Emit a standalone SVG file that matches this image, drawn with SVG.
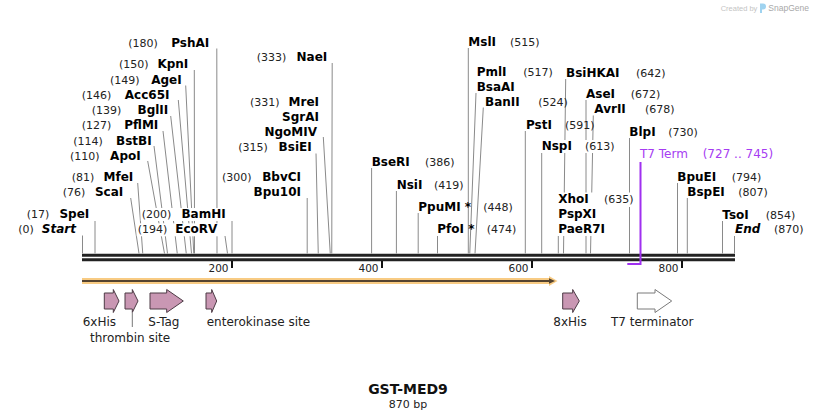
<svg xmlns="http://www.w3.org/2000/svg" width="818" height="420" viewBox="0 0 818 420">
<style>
.n{font:bold 12px "DejaVu Sans",Verdana,sans-serif;fill:#000}
.p{font:11px "DejaVu Sans",Verdana,sans-serif;fill:#222}
.i{font-style:italic}
.e{text-anchor:end}
.bg{fill:#fff}
.cut{stroke:#8a8a8a;stroke-width:1;fill:none}
.seq{stroke:#222;stroke-width:3}
.tick{stroke:#111;stroke-width:2}
.tl{font:10.5px "DejaVu Sans",Verdana,sans-serif;fill:#222;text-anchor:end}
.f{fill:#c997b3;stroke:#4d3b45;stroke-width:1}
.fw{fill:#fff;stroke:#7a7a7a;stroke-width:1}
.fl{font:12px "DejaVu Sans",Verdana,sans-serif;fill:#222}
.pu{fill:#a63cf2;font:12px "DejaVu Sans",Verdana,sans-serif}
</style>

<g id="watermark">
<text x="720.7" y="10.5" style="font:7.5px 'Liberation Sans',Arial,sans-serif;fill:#c4c4c4">Created by</text>
<path d="M760,3.5 h3 a3,3 0 0 1 0,6 h-1 v3.5 h-2 z" fill="#9fd3f0"/>
<text x="768.3" y="11" style="font:8.5px 'Liberation Sans',Arial,sans-serif;fill:#a8a8a8">SnapGene</text>
</g>

<g id="sequence">
<line class="seq" x1="82" y1="255.2" x2="735" y2="255.2"/>
<line class="seq" x1="82" y1="259.7" x2="735" y2="259.7"/>
<line class="tick" x1="232" y1="261" x2="232" y2="268"/>
<line class="tick" x1="382" y1="261" x2="382" y2="268"/>
<line class="tick" x1="532" y1="261" x2="532" y2="268"/>
<line class="tick" x1="682" y1="261" x2="682" y2="268"/>
<text class="tl" x="228.5" y="271.5">200</text>
<text class="tl" x="378.5" y="271.5">400</text>
<text class="tl" x="528.5" y="271.5">600</text>
<text class="tl" x="678.5" y="271.5">800</text>
</g>

<g id="connectors">
<path class="cut" d="M82.5,235.5V253.5"/>
<path class="cut" d="M95,221V253.5"/>
<path class="cut" d="M130.7,198L139,253.5"/>
<path class="cut" d="M137.7,183L142.75,253.5"/>
<path class="cut" d="M147.7,161L164.5,253.5"/>
<path class="cut" d="M154,146L167.5,253.5"/>
<path class="cut" d="M163,131L177.25,253.5"/>
<path class="cut" d="M170.7,116L186.25,253.5"/>
<path class="cut" d="M178.3,100L191.5,253.5"/>
<path class="cut" d="M185.7,85.5L193.75,253.5"/>
<path class="cut" d="M194.3,70L194.5,253.5"/>
<path class="cut" d="M216.8,48.5L217,253.5"/>
<path class="cut" d="M232,221V253.5"/>
<path class="cut" d="M225,236L227.5,253.5"/>
<path class="cut" d="M307.2,198V253.5"/>
<path class="cut" d="M316,153L318.25,253.5"/>
<path class="cut" d="M323.3,137L330.25,253.5"/>
<path class="cut" d="M332.2,63L331.75,253.5"/>
<path class="cut" d="M371.6,168V253.5"/>
<path class="cut" d="M396.4,191V253.5"/>
<path class="cut" d="M418.2,213V253.5"/>
<path class="cut" d="M437.5,236V253.5"/>
<path class="cut" d="M468.3,48V253.5"/>
<path class="cut" d="M476,93L469.75,253.5"/>
<path class="cut" d="M483.3,107.5L475,253.5"/>
<path class="cut" d="M525.3,131V253.5"/>
<path class="cut" d="M541.7,152V253.5"/>
<path class="cut" d="M565.7,79L563.5,253.5"/>
<path class="cut" d="M586,100V253.5"/>
<path class="cut" d="M593.3,115.5L590.5,253.5"/>
<path class="cut" d="M558.3,236V253.5"/>
<path class="cut" d="M629.5,138V253.5"/>
<path class="cut" d="M677.5,183V253.5"/>
<path class="cut" d="M687.3,198V253.5"/>
<path class="cut" d="M722.5,221V253.5"/>
<path class="cut" d="M734.5,236V253.5"/>
</g>

<g id="PshAI"><rect class="bg" x="127.3" y="36.5" width="83" height="13"/><text class="p" x="128.3" y="46.5">(180)</text><text class="n e" x="209.3" y="46.5">PshAI</text></g>
<g id="KpnI"><rect class="bg" x="118" y="58" width="71.3" height="13"/><text class="p" x="119" y="68">(150)</text><text class="n e" x="188.3" y="68">KpnI</text></g>
<g id="AgeI"><rect class="bg" x="109" y="73.5" width="73.7" height="13"/><text class="p" x="110" y="83.5">(149)</text><text class="n e" x="181.7" y="83.5">AgeI</text></g>
<g id="Acc65I"><rect class="bg" x="80.7" y="88.5" width="89.8" height="13"/><text class="p" x="81.7" y="98.5">(146)</text><text class="n e" x="169.5" y="98.5">Acc65I</text></g>
<g id="BglII"><rect class="bg" x="90.7" y="103.5" width="78.6" height="13"/><text class="p" x="91.7" y="113.5">(139)</text><text class="n e" x="168.3" y="113.5">BglII</text></g>
<g id="PflMI"><rect class="bg" x="80.7" y="119" width="78.6" height="13"/><text class="p" x="81.7" y="129">(127)</text><text class="n e" x="158.3" y="129">PflMI</text></g>
<g id="BstBI"><rect class="bg" x="72.3" y="134.5" width="80.4" height="13"/><text class="p" x="73.3" y="144.5">(114)</text><text class="n e" x="151.7" y="144.5">BstBI</text></g>
<g id="ApoI"><rect class="bg" x="69" y="149.5" width="72.7" height="13"/><text class="p" x="70" y="159.5">(110)</text><text class="n e" x="140.7" y="159.5">ApoI</text></g>
<g id="MfeI"><rect class="bg" x="70.7" y="170.5" width="63.6" height="13"/><text class="p" x="71.7" y="180.5">(81)</text><text class="n e" x="133.3" y="180.5">MfeI</text></g>
<g id="ScaI"><rect class="bg" x="61.7" y="186" width="62.6" height="13"/><text class="p" x="62.7" y="196">(76)</text><text class="n e" x="123.3" y="196">ScaI</text></g>
<g id="SpeI"><rect class="bg" x="25.7" y="208" width="64.6" height="13"/><text class="p" x="26.7" y="218">(17)</text><text class="n e" x="89.3" y="218">SpeI</text></g>
<g id="Start"><rect class="bg" x="17.3" y="223.3" width="59.7" height="13"/><text class="p" x="18.3" y="233.3">(0)</text><text class="n i e" x="76" y="233.3">Start</text></g>
<g id="BamHI"><rect class="bg" x="140.7" y="208" width="86" height="13"/><text class="p" x="141.7" y="218">(200)</text><text class="n e" x="225.7" y="218">BamHI</text></g>
<g id="EcoRV"><rect class="bg" x="136.7" y="223.3" width="81.6" height="13"/><text class="p" x="137.7" y="233.3">(194)</text><text class="n e" x="217.3" y="233.3">EcoRV</text></g>

<g id="NaeI"><rect class="bg" x="255.7" y="50.5" width="72.6" height="13"/><text class="p" x="256.7" y="60.5">(333)</text><text class="n e" x="327.3" y="60.5">NaeI</text></g>
<g id="MreI"><rect class="bg" x="249" y="95.5" width="71" height="58"/><text class="p" x="250" y="105.5">(331)</text><text class="n e" x="319" y="105.5">MreI</text><text class="n e" x="319" y="120.5">SgrAI</text><text class="n e" x="317" y="135.5">NgoMIV</text></g>
<g id="BsiEI"><rect class="bg" x="237.3" y="141" width="75.4" height="12"/><text class="p" x="238.3" y="151">(315)</text><text class="n e" x="311.7" y="151">BsiEI</text></g>
<g id="BbvCI"><rect class="bg" x="221" y="170.5" width="81" height="28"/><text class="p" x="222" y="180.5">(300)</text><text class="n e" x="301" y="180.5">BbvCI</text><text class="n e" x="301" y="195.5">Bpu10I</text></g>

<g id="BseRI"><text class="n" x="371.7" y="165.5">BseRI</text><text class="p" x="425" y="165.5">(386)</text></g>
<g id="NsiI"><text class="n" x="396.7" y="188.5">NsiI</text><text class="p" x="434" y="188.5">(419)</text></g>
<g id="PpuMI"><text class="n" x="418.3" y="210.5">PpuMI *</text><text class="p" x="483.3" y="210.5">(448)</text></g>
<g id="PfoI"><text class="n" x="437.3" y="233.3">PfoI *</text><text class="p" x="486.7" y="233.3">(474)</text></g>
<g id="MslI"><text class="n" x="468.3" y="46">MslI</text><text class="p" x="510" y="46">(515)</text></g>
<g id="PmlI"><text class="n" x="476.7" y="76">PmlI</text><text class="p" x="523.3" y="76">(517)</text><text class="n" x="476.7" y="91">BsaAI</text></g>
<g id="BanII"><text class="n" x="485" y="105.5">BanII</text><text class="p" x="538.3" y="105.5">(524)</text></g>
<g id="PstI"><text class="n" x="526" y="129">PstI</text><text class="p" x="565" y="129">(591)</text></g>
<g id="NspI"><rect class="bg" x="540.7" y="140" width="74.5" height="13"/><text class="n" x="541.7" y="150">NspI</text><text class="p" x="585" y="150">(613)</text></g>
<g id="BsiHKAI"><text class="n" x="566" y="76.5">BsiHKAI</text><text class="p" x="636" y="76.5">(642)</text></g>
<g id="AseI"><text class="n" x="586" y="98">AseI</text><text class="p" x="630.7" y="98">(672)</text></g>
<g id="AvrII"><text class="n" x="594.3" y="113.3">AvrII</text><text class="p" x="645" y="113.3">(678)</text></g>
<g id="XhoI"><rect class="bg" x="557.3" y="192.5" width="77" height="14.5"/><rect class="bg" x="557.3" y="207" width="50" height="29"/><text class="n" x="558.3" y="203.3">XhoI</text><text class="p" x="604" y="203.3">(635)</text><text class="n" x="558.3" y="218.3">PspXI</text><text class="n" x="558.3" y="233.3">PaeR7I</text></g>
<g id="BlpI"><text class="n" x="629.3" y="135.5">BlpI</text><text class="p" x="668.3" y="135.5">(730)</text></g>
<g id="BpuEI"><text class="n" x="677.3" y="180.5">BpuEI</text><text class="p" x="731.7" y="180.5">(794)</text></g>
<g id="BspEI"><text class="n" x="687.3" y="196">BspEI</text><text class="p" x="738.3" y="196">(807)</text></g>
<g id="TsoI"><text class="n" x="722.3" y="218.5">TsoI</text><text class="p" x="765.7" y="218.5">(854)</text></g>
<g id="End"><text class="n i" x="735" y="233.3">End</text><text class="p" x="774" y="233.3">(870)</text></g>

<g id="T7Term">
<path d="M640.5,162V264H627.3" fill="none" stroke="#a030f0" stroke-width="2"/>
<text class="pu" x="640" y="158.3">T7 Term</text>
<text class="pu" x="702.7" y="158.3">(727 .. 745)</text>
</g>

<g id="ORF">
<polygon points="82,278 549,278 549,276 557.5,281 549,286 549,284 82,284" fill="#f7c575" opacity="0.9"/>
<line x1="82" y1="281" x2="550" y2="281" stroke="#54432f" stroke-width="2"/>
<polygon points="549,278.3 555,281 549,283.7" fill="#54432f"/>
</g>

<g id="f6xHis"><polygon class="f" points="104.3,293 113.3,293 113.3,289.5 119,301 113.3,312.5 113.3,309 104.3,309"/><text class="fl" x="82.7" y="325.5">6xHis</text></g>
<g id="thrombin"><polygon class="f" points="125,293 132.3,293 132.3,289.5 138,301 132.3,312.5 132.3,309 125,309"/><line x1="132.3" y1="313" x2="132.3" y2="327" stroke="#777" stroke-width="1"/><text class="fl" x="90" y="341.5">thrombin site</text></g>
<g id="STag"><polygon class="f" points="150,293 166.7,293 166.7,289.5 183.3,301 166.7,312.5 166.7,309 150,309"/><text class="fl" x="148.3" y="325.5">S-Tag</text></g>
<g id="enterokinase"><polygon class="f" points="206,293 211.7,293 211.7,289.5 216.7,301 211.7,312.5 211.7,309 206,309"/><text class="fl" x="206.7" y="325.5">enterokinase site</text></g>
<g id="f8xHis"><polygon class="f" points="562.7,293 572.7,293 572.7,289.5 579.3,301 572.7,312.5 572.7,309 562.7,309"/><text class="fl" x="553.3" y="325.5">8xHis</text></g>
<g id="T7terminator"><polygon class="fw" points="637.3,293 655,293 655,289.5 671.7,301 655,312.5 655,309 637.3,309"/><text class="fl" x="611" y="325.5">T7 terminator</text></g>

<g id="title">
<text x="408" y="394" text-anchor="middle" style="font:bold 14px 'DejaVu Sans',Verdana,sans-serif;fill:#111">GST-MED9</text>
<text x="408" y="407.5" text-anchor="middle" style="font:11px 'DejaVu Sans',Verdana,sans-serif;fill:#222">870 bp</text>
</g>
</svg>
